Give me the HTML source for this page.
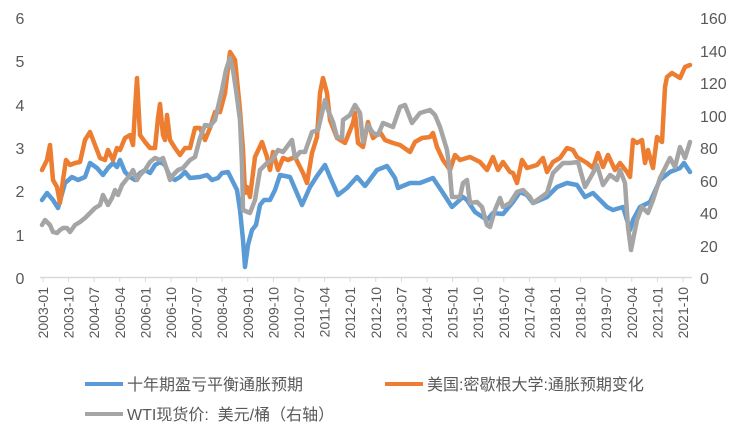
<!DOCTYPE html>
<html><head><meta charset="utf-8"><style>
body{margin:0;background:#fff;}
svg text{font-family:"Liberation Sans","Noto Sans CJK SC",sans-serif;fill:#595959;}
</style></head><body>
<svg width="748" height="432" viewBox="0 0 748 432" xmlns="http://www.w3.org/2000/svg">
<line x1="40" y1="277.5" x2="692" y2="277.5" stroke="#d9d9d9" stroke-width="1.5"/>
<g stroke="#d9d9d9" stroke-width="1">
<line x1="43" y1="277" x2="43" y2="282"/><line x1="68.6" y1="277" x2="68.6" y2="282"/><line x1="94.2" y1="277" x2="94.2" y2="282"/><line x1="119.8" y1="277" x2="119.8" y2="282"/><line x1="145.4" y1="277" x2="145.4" y2="282"/><line x1="171" y1="277" x2="171" y2="282"/><line x1="196.6" y1="277" x2="196.6" y2="282"/><line x1="222.2" y1="277" x2="222.2" y2="282"/><line x1="247.8" y1="277" x2="247.8" y2="282"/><line x1="273.4" y1="277" x2="273.4" y2="282"/><line x1="299" y1="277" x2="299" y2="282"/><line x1="324.6" y1="277" x2="324.6" y2="282"/><line x1="350.2" y1="277" x2="350.2" y2="282"/><line x1="375.8" y1="277" x2="375.8" y2="282"/><line x1="401.4" y1="277" x2="401.4" y2="282"/><line x1="427" y1="277" x2="427" y2="282"/><line x1="452.6" y1="277" x2="452.6" y2="282"/><line x1="478.2" y1="277" x2="478.2" y2="282"/><line x1="503.8" y1="277" x2="503.8" y2="282"/><line x1="529.4" y1="277" x2="529.4" y2="282"/><line x1="555" y1="277" x2="555" y2="282"/><line x1="580.6" y1="277" x2="580.6" y2="282"/><line x1="606.2" y1="277" x2="606.2" y2="282"/><line x1="631.8" y1="277" x2="631.8" y2="282"/><line x1="657.4" y1="277" x2="657.4" y2="282"/><line x1="683" y1="277" x2="683" y2="282"/>
</g>
<g font-size="16" text-anchor="middle">
<text x="20" y="24">6</text><text x="20" y="67">5</text><text x="20" y="111">4</text><text x="20" y="154">3</text><text x="20" y="197">2</text><text x="20" y="241">1</text><text x="20" y="284">0</text>
</g>
<g font-size="16" text-anchor="start">
<text x="700" y="24">160</text><text x="700" y="57">140</text><text x="700" y="89">120</text><text x="700" y="122">100</text><text x="700" y="154">80</text><text x="700" y="187">60</text><text x="700" y="219">40</text><text x="700" y="252">20</text><text x="700" y="284">0</text>
</g>
<g font-size="14" text-anchor="end">
<text transform="translate(48,287) rotate(-90)">2003-01</text>
<text transform="translate(73.6,287) rotate(-90)">2003-10</text>
<text transform="translate(99.2,287) rotate(-90)">2004-07</text>
<text transform="translate(124.8,287) rotate(-90)">2005-04</text>
<text transform="translate(150.4,287) rotate(-90)">2006-01</text>
<text transform="translate(176,287) rotate(-90)">2006-10</text>
<text transform="translate(201.6,287) rotate(-90)">2007-07</text>
<text transform="translate(227.2,287) rotate(-90)">2008-04</text>
<text transform="translate(252.8,287) rotate(-90)">2009-01</text>
<text transform="translate(278.4,287) rotate(-90)">2009-10</text>
<text transform="translate(304,287) rotate(-90)">2010-07</text>
<text transform="translate(329.6,287) rotate(-90)">2011-04</text>
<text transform="translate(355.2,287) rotate(-90)">2012-01</text>
<text transform="translate(380.8,287) rotate(-90)">2012-10</text>
<text transform="translate(406.4,287) rotate(-90)">2013-07</text>
<text transform="translate(432,287) rotate(-90)">2014-04</text>
<text transform="translate(457.6,287) rotate(-90)">2015-01</text>
<text transform="translate(483.2,287) rotate(-90)">2015-10</text>
<text transform="translate(508.8,287) rotate(-90)">2016-07</text>
<text transform="translate(534.4,287) rotate(-90)">2017-04</text>
<text transform="translate(560,287) rotate(-90)">2018-01</text>
<text transform="translate(585.6,287) rotate(-90)">2018-10</text>
<text transform="translate(611.2,287) rotate(-90)">2019-07</text>
<text transform="translate(636.8,287) rotate(-90)">2020-04</text>
<text transform="translate(662.4,287) rotate(-90)">2021-01</text>
<text transform="translate(688,287) rotate(-90)">2021-10</text>
</g>
<g fill="none" stroke-width="4.5" stroke-linejoin="round" stroke-linecap="round">
<polyline stroke="#5b9bd5" points="42,200 47,193 53,200 58,208 65,183 72,177 78,180 85,177 90,163 97,168 103,175 108,168 113,163 117,167 120,160 125,172 130,177 135,180 140,173 145,170 150,173 155,165 160,162 165,165 170,177 175,180 180,177 185,172 190,178 200,177 207,175 212,180 218,178 222,173 228,172 232,180 237,190 240,210 243,240 245,267 248,245 252,230 256,225 260,205 264,200 270,200 275,190 280,175 290,177 302,205 310,187 317,176 325,165 330,177 338,195 347,188 357,177 365,186 377,170 387,166 395,178 398,188 410,183 420,183 433,178 443,193 452,207 463,197 467,200 475,212 487,220 493,213 503,214 513,202 520,192 527,195 533,203 547,197 557,187 567,183 577,185 585,197 593,193 607,207 613,210 623,207 630,230 633,220 640,207 650,202 660,180 670,172 680,168 684,163 690,172"/>
<polyline stroke="#ed7d31" points="42,170 47,160 50,145 53,180 57,187 60,203 63,180 66,160 70,165 75,163 80,162 85,140 90,132 95,145 100,158 105,160 108,150 113,160 117,148 120,150 125,138 130,135 133,145 135,110 137,78 140,135 145,142 150,148 155,148 158,118 160,104 163,135 165,140 167,115 170,140 175,148 180,155 185,148 190,148 195,128 200,128 205,140 210,128 215,112 220,112 225,93 230,52 235,60 240,110 243,150 245,193 247,187 250,197 255,157 262,142 267,157 270,170 273,152 278,170 283,158 288,160 295,157 303,173 307,183 312,153 317,137 320,93 323,78 327,93 330,120 337,138 345,143 353,123 355,113 358,143 363,147 368,122 373,138 380,132 385,140 393,143 400,145 410,152 415,142 422,138 430,137 433,133 437,147 443,160 450,170 455,155 460,160 470,157 480,162 487,170 493,157 498,170 503,162 510,172 513,173 517,183 522,160 527,168 537,165 543,158 547,172 553,162 560,158 567,148 573,150 577,157 587,163 593,168 598,153 603,167 608,155 615,170 620,163 627,172 630,177 633,140 637,143 642,140 645,163 648,150 653,168 657,137 662,142 665,87 667,77 672,73 680,78 685,67 690,65"/>
<polyline stroke="#a5a5a5" points="42,225 45,220 50,225 53,232 57,233 60,230 63,228 67,228 70,232 75,225 80,222 85,218 90,213 95,208 100,205 103,195 108,205 112,198 115,190 118,195 122,185 126,180 130,175 133,170 137,180 140,175 145,170 150,162 155,158 160,160 163,158 167,170 170,180 173,175 178,170 183,168 190,160 195,157 200,138 205,125 210,126 215,120 218,107 222,90 226,70 230,58 233,70 236,90 240,120 242,165 243,210 250,213 255,200 260,170 267,163 272,160 278,150 283,152 292,140 295,158 300,152 305,152 312,132 318,130 325,100 328,110 333,122 337,137 342,138 343,120 350,115 355,105 360,113 363,142 368,125 373,133 378,135 383,123 393,127 400,107 405,105 412,123 420,113 430,110 435,115 440,127 447,150 450,173 452,197 460,197 463,183 467,180 470,203 477,202 482,207 487,225 490,227 495,210 500,198 503,207 510,203 517,192 523,190 530,197 533,203 547,193 553,173 563,163 570,163 578,162 585,187 593,173 597,165 603,185 610,175 617,180 620,170 625,183 628,227 631,250 637,220 642,207 648,213 653,200 660,178 670,158 675,167 680,147 685,158 690,142"/>
</g>
<g stroke-width="4">
<line x1="85" y1="384" x2="123" y2="384" stroke="#5b9bd5"/>
<line x1="385" y1="384" x2="423" y2="384" stroke="#ed7d31"/>
<line x1="85" y1="414" x2="123" y2="414" stroke="#a5a5a5"/>
</g>
<g font-size="16">
<text x="127" y="390">十年期盈亏平衡通胀预期</text>
<text x="427" y="390">美国:密歇根大学:通胀预期变化</text>
<text x="127" y="420">WTI现货价:&#160; 美元/桶（右轴）</text>
</g>
</svg>
</body></html>
